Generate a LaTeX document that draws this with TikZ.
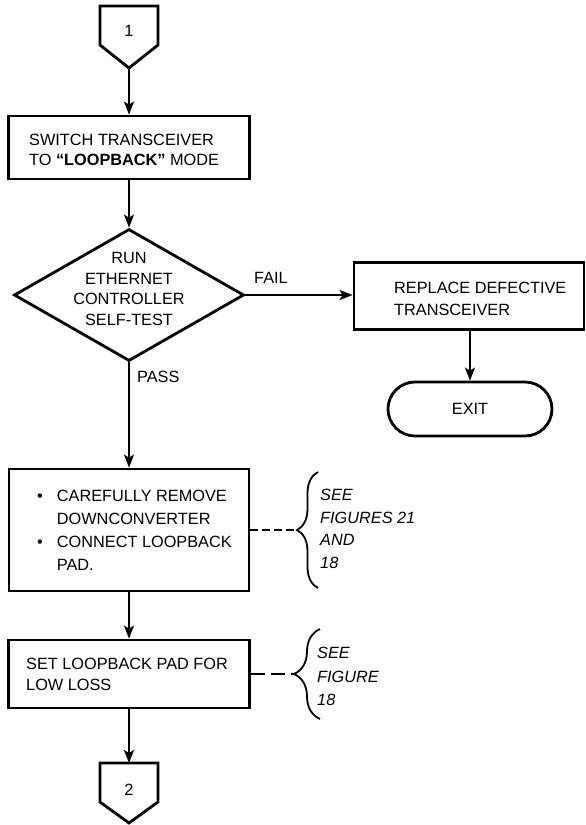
\documentclass[tikz,border=0pt]{standalone}
\usepackage{fontspec}
\setmainfont{Liberation Sans}
\usetikzlibrary{shapes.geometric,arrows.meta,decorations.pathreplacing}

\begin{document}
\begin{tikzpicture}[x=1pt,y=-1pt,
  frame/.style={draw, line width=2.8pt, inner sep=0pt},
  label/.style={font=\fontsize{16.3}{20.5}\selectfont, inner sep=0pt, align=left},
  flow/.style={line width=2pt, -{Stealth[length=13pt,width=10pt,inset=3pt]}},
  refline/.style={line width=1.8pt},
  note/.style={font=\fontsize{16.3}{22.5}\selectfont\itshape, inner sep=0pt, align=left, anchor=west},
  curly/.style={decorate, decoration={brace, amplitude=#1}, line width=1.8pt}]

\useasboundingbox (0,0) rectangle (586,825);

% off-page connector 1
\draw[frame, line join=miter] (100,6) -- (158,6) -- (158,45) -- (129,68) -- (100,45) -- cycle;
\coordinate (c1tip) at (129,68);
\node[label] (n1) at (129,31) {1};

% switch transceiver
\node[frame, minimum width=241pt, minimum height=63pt] (b1) at (129,147.5) {};
\node[label, anchor=west] (t1) at (29,150) {SWITCH TRANSCEIVER\\TO \textbf{“LOOPBACK”} MODE};

% self-test decision
\node[frame, shape=diamond, minimum width=230pt, minimum height=132pt] (d) at (129,295) {};
\node[label, align=center, font=\fontsize{16.3}{20.7}\selectfont] (td) at (129,289)
  {RUN\\ETHERNET\\CONTROLLER\\SELF-TEST};

% failure branch
\node[frame, minimum width=230pt, minimum height=67pt] (b2) at (469,296) {};
\node[label, anchor=west, font=\fontsize{16.3}{22}\selectfont] (t2) at (394,299) {REPLACE DEFECTIVE\\TRANSCEIVER};
\node[frame, minimum width=164pt, minimum height=54pt, rounded corners=27pt] (e) at (470,409) {};
\node[label] (te) at (470,409) {EXIT};

% remove downconverter
\node[frame, minimum width=240pt, minimum height=122pt] (b3) at (129,530) {};
\node[label, anchor=west, font=\fontsize{16.3}{23}\selectfont] (t3) at (37,531)
  {\begin{tabular}{@{}l@{\hspace{14pt}}l@{}}
   \textbullet & CAREFULLY REMOVE\\
               & DOWNCONVERTER\\
   \textbullet & CONNECT LOOPBACK\\
               & PAD.
   \end{tabular}};

% set loopback pad
\node[frame, minimum width=241pt, minimum height=68pt] (b4) at (129,674) {};
\node[label, anchor=west, font=\fontsize{16.3}{21}\selectfont] (t4) at (26,674.5) {SET LOOPBACK PAD FOR\\LOW LOSS};

% off-page connector 2
\draw[frame, line join=miter] (100,763) -- (158,763) -- (158,802) -- (129,823) -- (100,802) -- cycle;
\coordinate (c2top) at (129,763);
\node[label] (n2) at (129,790) {2};

% flow
\draw[flow] (c1tip) -- (b1.north);
\draw[flow] (b1.south) -- (d.north);
\draw[flow] (d.east) -- (d.east -| b2.west);
\node[label] (fail) at (271,278) {FAIL};
\draw[flow] (e.north |- b2.south) -- (e.north);
\draw[flow] (d.south) -- (b3.north);
\node[label, anchor=west] (pass) at (137,377) {PASS};
\draw[flow] (b3.south) -- (b4.north);
\draw[flow] (b4.south) -- (c2top);

% references
\draw[curly=21pt] (318,588) -- (318,472);
\coordinate (r1) at (297,530);
\draw[refline, dash pattern=on 8pt off 4pt] (b3.east) -- (r1);
\node[note] (s1) at (320,529) {SEE\\FIGURES 21\\AND\\18};

\draw[curly=26pt] (320,719) -- (320,629);
\coordinate (r2) at (294,674);
\draw[refline, dash pattern=on 14pt off 6pt] (b4.east) -- (r2);
\node[note, font=\fontsize{16.3}{23.5}\selectfont\itshape] (s2) at (317,676.5) {SEE\\FIGURE\\18};

\end{tikzpicture}
\end{document}
